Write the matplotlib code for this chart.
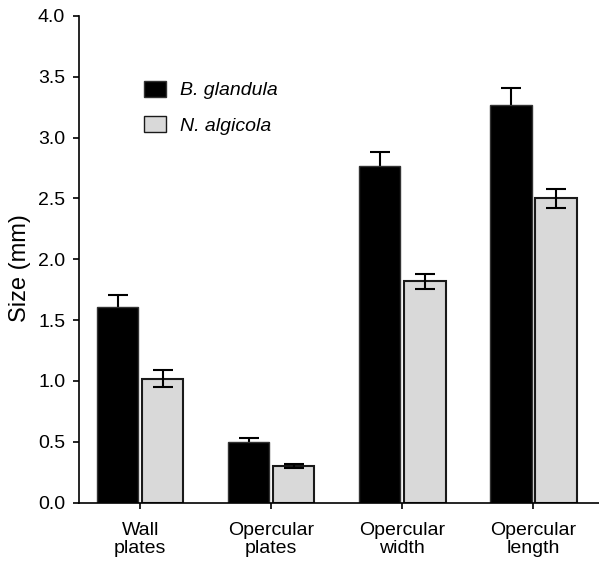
import numpy as np
import matplotlib
matplotlib.use('Agg')
import matplotlib.pyplot as plt

plt.rcParams['font.family'] = ['Liberation Sans', 'DejaVu Sans']

categories = ['Wall\nplates', 'Opercular\nplates', 'Opercular\nwidth', 'Opercular\nlength']
b_glandula = [1.61, 0.50, 2.77, 3.27]
b_glandula_err = [0.10, 0.03, 0.11, 0.14]
n_algicola = [1.02, 0.30, 1.82, 2.50]
n_algicola_err = [0.07, 0.015, 0.06, 0.08]

x = np.arange(len(categories))
width = 0.315
offset = 0.172

fig = plt.figure(figsize=(5.99, 5.61), dpi=100)
ax = fig.add_axes([0.132, 0.104, 0.868, 0.8675])

ax.bar(x - offset, b_glandula, width, color='black', edgecolor='#333333', linewidth=1.0,
       label='B. glandula', zorder=2)
ax.errorbar(x - offset, b_glandula, yerr=b_glandula_err, fmt='none', ecolor='black',
            elinewidth=1.5, capsize=7.5, capthick=1.5, zorder=1)
ax.bar(x + offset, n_algicola, width, color='#d9d9d9', edgecolor='#1a1a1a', linewidth=1.5,
       label='N. algicola', zorder=2)
ax.errorbar(x + offset, n_algicola, yerr=n_algicola_err, fmt='none', ecolor='black',
            elinewidth=1.5, capsize=7.5, capthick=1.5, zorder=3)

ax.set_xlim(-0.466, 3.5)
ax.set_ylim(0, 4.0)
ax.set_yticks(np.arange(0, 4.01, 0.5))
ax.set_yticklabels(['%.1f' % v for v in np.arange(0, 4.01, 0.5)])
ax.set_xticks(x)
ax.set_xticklabels(categories, fontsize=14, linespacing=1.05)
ax.tick_params(axis='y', labelsize=14, direction='out', length=4, width=1.2, pad=6)
ax.tick_params(axis='x', direction='out', length=4, width=1.2, pad=10)
ax.set_ylabel('Size (mm)', fontsize=17)
ax.yaxis.set_label_coords(-0.092, 0.482)

for side in ['top', 'right']:
    ax.spines[side].set_visible(False)
for side in ['left', 'bottom']:
    ax.spines[side].set_linewidth(1.2)

leg = ax.legend(loc='upper left', bbox_to_anchor=(0.124, 0.867), frameon=False,
                prop={'style': 'italic', 'size': 14}, handlelength=1.15, handleheight=0.9,
                labelspacing=0.85, handletextpad=0.75, borderpad=0, borderaxespad=0)
for h in leg.legend_handles:
    h.set_linewidth(1.0)

fig.savefig('out.png', dpi=100)
